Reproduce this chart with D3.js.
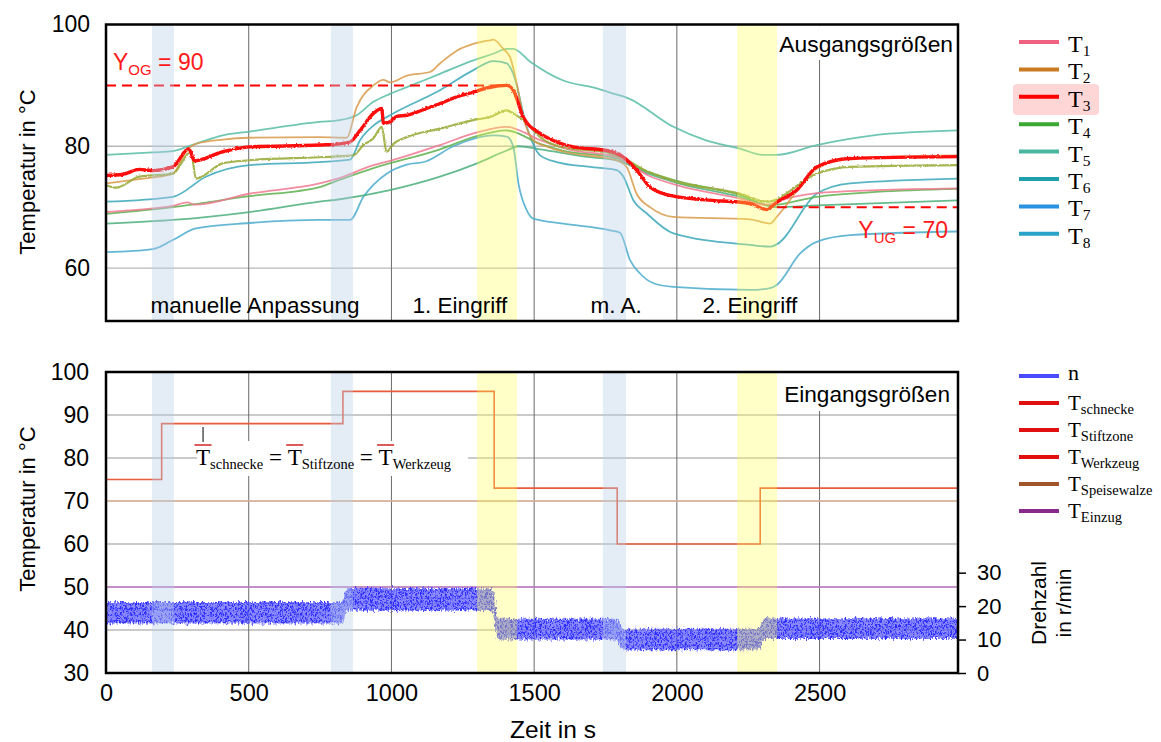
<!DOCTYPE html>
<html>
<head>
<meta charset="utf-8">
<script src="https://cdn.jsdelivr.net/npm/d3@7"></script>
<style>
  body { margin: 0; background: #fff; }
  text { font-family: "Liberation Sans", Arial, sans-serif; }
  .serif { font-family: "Liberation Serif", "Times New Roman", serif; }
</style>
</head>
<body>
<div id="viz"></div>
<script>
// ---- data (time in s, temperature in °C) ----
const tempT1 = [[0,69.2],[117,69.6],[234,70.2],[285,70.8],[310,70.4],[502,72.2],[748,73.9],[820,74.8],[937,76.9],[995,77.6],[1170,80.2],[1287,82.1],[1404,83.2],[1427,83.0],[1521,81.0],[1620,79.5],[1790,78.2],[1900,75.2],[2000,73.6],[2221,71.4],[2310,70.4],[2400,71.6],[2490,72.3],[2700,72.8],[2985,73.1]];
const tempT2 = [[0,73.9],[117,74.6],[234,75.5],[280,79.1],[315,80.4],[409,81.1],[502,81.4],[748,81.5],[843,81.4],[878,86.4],[937,90.0],[972,90.9],[995,90.5],[1054,91.6],[1135,92.2],[1170,93.6],[1229,95.7],[1287,96.8],[1345,97.4],[1357,97.5],[1392,96.0],[1416,94.6],[1439,90.3],[1462,84.8],[1497,81.0],[1540,80.0],[1602,79.1],[1789,77.7],[1824,76.6],[1859,72.2],[1906,70.0],[1988,68.4],[2256,68.0],[2327,67.3],[2350,68.4],[2490,76.3],[2607,78.0],[2985,78.5]];
const tempT3 = [[0,75.2],[60,75.4],[117,76.2],[164,76.0],[234,76.6],[290,79.6],[310,77.6],[409,79.1],[502,79.9],[748,80.2],[820,80.4],[855,80.7],[890,82.6],[937,85.4],[966,86.2],[972,83.8],[995,84.0],[1019,84.9],[1054,85.1],[1123,86.2],[1170,87.0],[1229,88.1],[1287,88.9],[1345,89.7],[1404,90.0],[1427,89.2],[1462,84.8],[1521,82.1],[1579,80.7],[1637,79.9],[1754,79.3],[1813,78.2],[1859,76.1],[1906,73.3],[1988,71.8],[2100,71.2],[2256,70.6],[2315,69.6],[2350,70.8],[2420,72.8],[2490,76.6],[2607,78.0],[2985,78.3]];
const tempT4 = [[0,68.9],[234,70.0],[502,71.8],[748,73.3],[820,74.5],[937,76.4],[1170,79.5],[1287,81.5],[1404,82.6],[1521,80.4],[1600,79.3],[1790,78.0],[1900,75.8],[2000,74.3],[2221,72.0],[2327,70.3],[2490,71.7],[2700,72.5],[2985,73.0]];
const tempT5 = [[0,78.6],[164,79.0],[234,79.2],[300,80.2],[409,81.8],[502,82.4],[748,84.0],[820,84.3],[878,85.1],[937,87.3],[995,88.6],[1054,89.7],[1170,91.9],[1287,94.1],[1357,95.2],[1404,96.0],[1427,96.0],[1486,93.9],[1602,90.8],[1719,89.5],[1780,88.6],[1824,88.0],[1988,83.2],[2100,81.0],[2221,79.6],[2300,78.6],[2350,78.6],[2490,80.2],[2689,81.8],[2985,82.6]];
const tempT6 = [[0,70.9],[234,71.7],[350,75.0],[502,76.9],[748,77.4],[855,77.8],[890,81.0],[937,83.4],[995,85.1],[1170,89.2],[1287,92.5],[1357,94.0],[1404,93.6],[1427,91.9],[1474,83.2],[1521,78.5],[1579,77.4],[1696,76.6],[1789,76.1],[1813,75.0],[1848,71.1],[1894,69.0],[1988,65.7],[2256,63.8],[2327,63.5],[2350,63.9],[2490,72.2],[2607,73.9],[2985,74.7]];
const tempT7 = [[0,67.3],[234,67.9],[502,69.2],[748,70.9],[820,71.3],[995,72.8],[1170,75.0],[1300,77.2],[1404,79.3],[1445,80.0],[1521,79.5],[1696,78.2],[1790,77.7],[1900,75.5],[2000,74.0],[2221,71.7],[2350,70.0],[2490,70.3],[2985,71.1]];
const tempT8 = [[0,62.6],[164,63.1],[234,64.6],[315,66.5],[502,67.4],[748,67.9],[855,67.9],[902,71.7],[983,75.5],[1054,77.0],[1120,77.5],[1217,80.0],[1357,81.8],[1404,81.6],[1427,79.9],[1445,73.9],[1474,69.5],[1497,68.1],[1602,67.3],[1766,66.2],[1801,65.8],[1836,61.3],[1871,59.1],[1918,57.5],[1988,56.9],[2256,56.4],[2327,56.7],[2350,57.2],[2432,62.4],[2490,64.3],[2607,65.4],[2985,66.0]];
const tempOlive = [[0,73.6],[35,73.2],[117,75.0],[234,75.5],[298,79.1],[315,74.7],[409,77.2],[502,77.7],[748,78.2],[866,78.5],[902,80.2],[937,81.3],[966,83.2],[983,79.1],[1007,80.4],[1054,81.5],[1170,82.9],[1287,84.3],[1345,84.8],[1404,85.9],[1427,85.4],[1474,83.8],[1521,81.5],[1600,79.8],[1750,79.0],[1813,78.0],[1900,75.8],[2000,74.2],[2221,72.2],[2315,70.9],[2490,75.5],[2607,76.6],[2985,76.9]];

// set temperatures (step) and constants
const tempSet = [[0,75],[195,88],[830,95.5],[1360,73],[1791,60],[2292,73],[2985,73]];
const tempSpeisewalze = [[0,70],[2985,70]];
const tempEinzug = [[0,50],[2985,50]];

// speed n in r/min, read as lower / upper edge of the noisy band
const nTime = [0, 828, 842, 1355, 1372, 1793, 1808, 2290, 2304, 2985];
const nLow  = [14.8, 14.8, 18.6, 18.6, 10.0, 10.0, 6.8, 6.8, 10.2, 10.2];
const nHigh = [21.2, 21.2, 25.4, 25.4, 16.2, 16.2, 13.2, 13.2, 16.4, 16.4];

// shaded phases
const blueBands = [[161, 238], [788, 865], [1741, 1822]];
const yellowBands = [[1300, 1440], [2211, 2351]];
const phaseLabels = ["manuelle Anpassung", "1. Eingriff", "m. A.", "2. Eingriff"];
const phaseCenters = [522, 1240, 1787, 2256];

const topTicks = [60, 80, 100];
const bottomTicks = [30, 40, 50, 60, 70, 80, 90, 100];
const timeTicks = [0, 500, 1000, 1500, 2000, 2500];
const speedTicks = [0, 10, 20, 30];

const legendTop = ["1", "2", "3", "4", "5", "6", "7", "8"];
const legendTopColors = ["#f06080", "#cc7a22", "#ff0000", "#3aa832", "#4ab8a0", "#20a0ac", "#2a92e0", "#28a2c8"];
const legendBottom = ["schnecke", "Stiftzone", "Werkzeug", "Speisewalze", "Einzug"];
const legendBottomColors = ["#e01010", "#e01010", "#e01010", "#a0562a", "#8a2a8a"];

// ---- chart ----
const W = 1161, H = 742;
const svg = d3.select("#viz").append("svg").attr("width", W).attr("height", H);

const x = d3.scaleLinear().domain([0, 2985]).range([106, 958]);
const yTop = d3.scaleLinear().domain([51.3, 100]).range([321, 24.5]);
const yBot = d3.scaleLinear().domain([30, 100]).range([673, 372]);
const yN = d3.scaleLinear().domain([0, 90]).range([673, 372]);

const defs = svg.append("defs");
defs.append("clipPath").attr("id", "clipTop").append("rect")
  .attr("x", 106).attr("y", 24.5).attr("width", 852).attr("height", 296.5);
defs.append("clipPath").attr("id", "clipBot").append("rect")
  .attr("x", 106).attr("y", 372).attr("width", 852).attr("height", 301);
const pat = defs.append("pattern").attr("id", "noise")
  .attr("patternUnits", "userSpaceOnUse").attr("width", 5).attr("height", 6);
pat.append("rect").attr("width", 5).attr("height", 6).attr("fill", "#5a5aff").attr("opacity", 0.7);
pat.append("rect").attr("x", 0).attr("y", 0).attr("width", 1.6).attr("height", 4).attr("fill", "#2e2eff");
pat.append("rect").attr("x", 2.6).attr("y", 2.5).attr("width", 1.6).attr("height", 3.5).attr("fill", "#3636ff");

// rough edges for the measured (noisy) signals
function rough(id, freq, scale) {
  const f = defs.append("filter").attr("id", id)
    .attr("filterUnits", "userSpaceOnUse")
    .attr("x", 100).attr("y", 0).attr("width", 870).attr("height", 742);
  f.append("feTurbulence").attr("type", "fractalNoise")
    .attr("baseFrequency", freq).attr("numOctaves", 2).attr("seed", 3).attr("result", "t");
  f.append("feDisplacementMap").attr("in", "SourceGraphic").attr("in2", "t")
    .attr("scale", scale).attr("xChannelSelector", "R").attr("yChannelSelector", "G");
}
rough("roughN", "0.6 0.25", 7);
rough("roughT", "0.5 0.5", 2.5);

function grid(g, yScale, yVals, y0, y1) {
  g.selectAll("line.h").data(yVals).enter().append("line")
    .attr("x1", 106).attr("x2", 958)
    .attr("y1", d => yScale(d)).attr("y2", d => yScale(d))
    .attr("stroke", "#b8b8b8").attr("stroke-width", 1.3);
  g.selectAll("line.v").data(timeTicks.slice(1)).enter().append("line")
    .attr("x1", d => x(d)).attr("x2", d => x(d))
    .attr("y1", y0).attr("y2", y1)
    .attr("stroke", "#6a6a6a").attr("stroke-width", 1);
}

function bands(g, y0, y1) {
  g.selectAll("rect.b").data(blueBands).enter().append("rect")
    .attr("x", d => x(d[0])).attr("width", d => x(d[1]) - x(d[0]))
    .attr("y", y0).attr("height", y1 - y0)
    .attr("fill", "#b8cce8").attr("opacity", 0.38);
  g.selectAll("rect.y").data(yellowBands).enter().append("rect")
    .attr("x", d => x(d[0])).attr("width", d => x(d[1]) - x(d[0]))
    .attr("y", y0).attr("height", y1 - y0)
    .attr("fill", "#ffff50").attr("opacity", 0.32);
}

// ===== top panel =====
const gTop = svg.append("g");
grid(gTop, yTop, [60, 80], 24.5, 321);
// white box behind "Ausgangsgrößen"
gTop.append("rect").attr("x", 776).attr("y", 26).attr("width", 181).attr("height", 34).attr("fill", "#fff");

const lineTop = d3.line().x(d => x(d[0])).y(d => yTop(d[1])).curve(d3.curveMonotoneX);
const topSeries = [
  { data: tempT8, color: "#4aaccc", w: 1.8 },
  { data: tempT7, color: "#4aae7a", w: 1.8 },
  { data: tempT6, color: "#3aa8b8", w: 1.8 },
  { data: tempT4, color: "#5cb04c", w: 1.8 },
  { data: tempT1, color: "#f07890", w: 1.8 },
  { data: tempT5, color: "#56bca6", w: 1.8 },
  { data: tempT2, color: "#d89a4a", w: 1.8 },
  { data: tempOlive, color: "#98a834", w: 2.2 },
  { data: tempT3, color: "#ff1010", w: 3.4 }
];
const gLines = gTop.append("g").attr("clip-path", "url(#clipTop)");
gLines.selectAll("path").data(topSeries).enter().append("path")
  .attr("d", d => lineTop(d.data))
  .attr("fill", "none")
  .attr("stroke", d => d.color)
  .attr("stroke-width", d => d.w)
  .attr("stroke-opacity", d => d.w > 3 ? 1 : 0.85)
  .attr("stroke-linejoin", "round")
  .attr("filter", d => d.w > 2 ? "url(#roughT)" : null);

// limit lines
gTop.append("line")
  .attr("x1", x(0)).attr("x2", x(1400)).attr("y1", yTop(90)).attr("y2", yTop(90))
  .attr("stroke", "#ff0000").attr("stroke-width", 2).attr("stroke-dasharray", "10,6");
gTop.append("line")
  .attr("x1", x(2350)).attr("x2", x(2985)).attr("y1", yTop(70)).attr("y2", yTop(70))
  .attr("stroke", "#ff0000").attr("stroke-width", 2).attr("stroke-dasharray", "10,6");

bands(gTop, 24.5, 321);

// limit labels
const og = gTop.append("text").attr("x", 113).attr("y", 70).attr("fill", "#ff1a1a").attr("font-size", 23);
og.append("tspan").text("Y");
og.append("tspan").attr("dy", 5).attr("font-size", 15).text("OG");
og.append("tspan").attr("dy", -5).text(" = 90");
const ug = gTop.append("text").attr("x", 948).attr("y", 238).attr("fill", "#ff1a1a").attr("font-size", 23).attr("text-anchor", "end");
ug.append("tspan").text("Y");
ug.append("tspan").attr("dy", 5).attr("font-size", 15).text("UG");
ug.append("tspan").attr("dy", -5).text(" = 70");

gTop.selectAll("text.phase").data(phaseLabels).enter().append("text")
  .attr("x", (d, i) => x(phaseCenters[i])).attr("y", 313)
  .attr("text-anchor", "middle").attr("font-size", 22.5).text(d => d);
gTop.append("text").attr("x", 953).attr("y", 52).attr("text-anchor", "end")
  .attr("font-size", 22.8).text("Ausgangsgrößen");

gTop.append("rect").attr("x", 106).attr("y", 24.5).attr("width", 852).attr("height", 296.5)
  .attr("fill", "none").attr("stroke", "#000").attr("stroke-width", 2.5);

const axTop = gTop.append("g").attr("transform", "translate(106,0)")
  .call(d3.axisLeft(yTop).tickValues(topTicks).tickSize(0).tickPadding(16));
axTop.select(".domain").remove();
axTop.selectAll("text").attr("font-size", 23).attr("font-family", "Liberation Sans, Arial, sans-serif").attr("fill", "#000");

svg.append("text").attr("transform", "translate(35,172) rotate(-90)")
  .attr("text-anchor", "middle").attr("font-size", 22).text("Temperatur in °C");

// ===== bottom panel =====
const gBot = svg.append("g");
grid(gBot, yBot, [40, 50, 60, 70, 80, 90], 372, 673);
gBot.append("rect").attr("x", 780).attr("y", 373).attr("width", 177).attr("height", 38).attr("fill", "#fff");
gBot.append("rect").attr("x", 197).attr("y", 441).attr("width", 271).attr("height", 35).attr("fill", "#fff");

const gData = gBot.append("g").attr("clip-path", "url(#clipBot)");
const lineBot = d3.line().x(d => x(d[0])).y(d => yBot(d[1]));
gData.append("path").attr("d", lineBot(tempSpeisewalze)).attr("fill", "none")
  .attr("stroke", "#deb49a").attr("stroke-width", 1.6);
gData.append("path").attr("d", lineBot(tempEinzug)).attr("fill", "none")
  .attr("stroke", "#c27ac8").attr("stroke-width", 1.4);
gData.append("path").attr("d", lineBot.curve(d3.curveStepAfter)(tempSet)).attr("fill", "none")
  .attr("stroke", "#ea5a3a").attr("stroke-width", 1.6);

const nArea = d3.area()
  .x((d, i) => x(nTime[i]))
  .y0((d, i) => yN(nLow[i]))
  .y1((d, i) => yN(nHigh[i]));
gData.append("g").attr("filter", "url(#roughN)")
  .append("path").attr("d", nArea(nTime)).attr("fill", "url(#noise)");

bands(gBot, 372, 673);

// formula annotation
const fx0 = 196, fy = 465;
const parts = [
  { s: "T", bar: true }, { s: "schnecke", sub: true }, { s: " = " },
  { s: "T", bar: true }, { s: "Stiftzone", sub: true }, { s: " = " },
  { s: "T", bar: true }, { s: "Werkzeug", sub: true }
];
let cx = fx0;
parts.forEach((p, i) => {
  const t = gBot.append("text").attr("class", "serif")
    .attr("x", cx).attr("y", p.sub ? fy + 4 : fy)
    .attr("font-size", p.sub ? 14.5 : 23)
    .attr("xml:space", "preserve")
    .text(p.s);
  const w = t.node().getComputedTextLength();
  if (p.bar) {
    gBot.append("line").attr("x1", cx - 1.5).attr("x2", cx + w + 1.5)
      .attr("y1", 445).attr("y2", 445).attr("stroke", "#d43030").attr("stroke-width", 1.6);
    if (i === 0) {
      gBot.append("line").attr("x1", cx + w / 2).attr("x2", cx + w / 2)
        .attr("y1", 427).attr("y2", 442).attr("stroke", "#000").attr("stroke-width", 1);
    }
  }
  cx += w;
});

gBot.append("text").attr("x", 950).attr("y", 402).attr("text-anchor", "end")
  .attr("font-size", 22.6).text("Eingangsgrößen");

gBot.append("rect").attr("x", 106).attr("y", 372).attr("width", 852).attr("height", 301)
  .attr("fill", "none").attr("stroke", "#000").attr("stroke-width", 2.5);

const axBotL = gBot.append("g").attr("transform", "translate(106,0)")
  .call(d3.axisLeft(yBot).tickValues(bottomTicks).tickSize(0).tickPadding(17));
axBotL.select(".domain").remove();
axBotL.selectAll("text").attr("font-size", 23).attr("font-family", "Liberation Sans, Arial, sans-serif").attr("fill", "#000");

const axX = gBot.append("g").attr("transform", "translate(0,673)")
  .call(d3.axisBottom(x).tickValues(timeTicks).tickSize(0).tickPadding(11).tickFormat(d3.format("d")));
axX.select(".domain").remove();
axX.selectAll("text").attr("font-size", 23.5).attr("font-family", "Liberation Sans, Arial, sans-serif").attr("fill", "#000");

const axR = gBot.append("g").attr("transform", "translate(958,0)")
  .call(d3.axisRight(yN).tickValues(speedTicks).tickSize(8).tickPadding(11));
axR.select(".domain").remove();
axR.selectAll("line").attr("stroke", "#000").attr("stroke-width", 1.5);
axR.selectAll("text").attr("font-size", 22).attr("font-family", "Liberation Sans, Arial, sans-serif").attr("fill", "#000");

svg.append("text").attr("transform", "translate(35,509) rotate(-90)")
  .attr("text-anchor", "middle").attr("font-size", 22).text("Temperatur in °C");
svg.append("text").attr("x", 553).attr("y", 738).attr("text-anchor", "middle")
  .attr("font-size", 24.5).text("Zeit in s");
svg.append("text").attr("transform", "translate(1046,603) rotate(-90)")
  .attr("text-anchor", "middle").attr("font-size", 21).text("Drehzahl");
svg.append("text").attr("transform", "translate(1071,603) rotate(-90)")
  .attr("text-anchor", "middle").attr("font-size", 21).text("in r/min");

// ===== legends =====
const legTop = svg.append("g");
legTop.append("rect").attr("x", 1013).attr("y", 84).attr("width", 86).attr("height", 31)
  .attr("rx", 4).attr("fill", "#ffd6d6");
const lt = legTop.selectAll("g").data(legendTop).enter().append("g")
  .attr("transform", (d, i) => `translate(0,${42 + i * 27.4})`);
lt.append("line").attr("x1", 1019).attr("x2", 1059)
  .attr("stroke", (d, i) => legendTopColors[i]).attr("stroke-width", 4);
const ltt = lt.append("text").attr("class", "serif").attr("x", 1068).attr("y", 10).attr("font-size", 24);
ltt.append("tspan").text("T");
ltt.append("tspan").attr("dy", 4).attr("font-size", 15.5).text(d => d);

const legBot = svg.append("g");
legBot.append("line").attr("x1", 1019).attr("x2", 1059).attr("y1", 376).attr("y2", 376)
  .attr("stroke", "#4a4aff").attr("stroke-width", 4);
legBot.append("text").attr("class", "serif").attr("x", 1068).attr("y", 380).attr("font-size", 22).text("n");
const lb = legBot.selectAll("g").data(legendBottom).enter().append("g")
  .attr("transform", (d, i) => `translate(0,${403 + i * 27})`);
lb.append("line").attr("x1", 1019).attr("x2", 1059)
  .attr("stroke", (d, i) => legendBottomColors[i]).attr("stroke-width", 4);
const lbt = lb.append("text").attr("class", "serif").attr("x", 1068).attr("y", 7).attr("font-size", 21);
lbt.append("tspan").text("T");
lbt.append("tspan").attr("dy", 4).attr("font-size", 14.5).text(d => d);
</script>
</body>
</html>
